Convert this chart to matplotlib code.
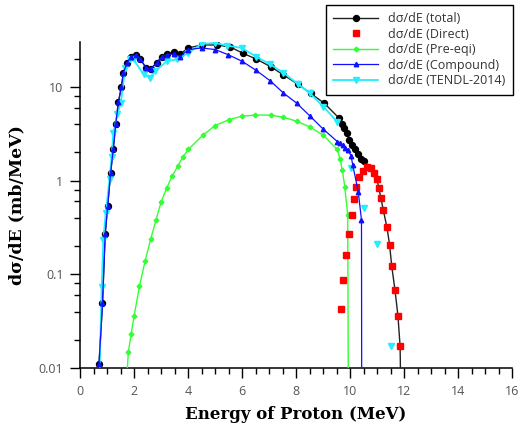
import numpy as np
import matplotlib
matplotlib.use("Agg")
import matplotlib.pyplot as plt
from matplotlib.ticker import MultipleLocator, FixedLocator, FixedFormatter

# total (black), markers only on the first n_total_marked points
total_e = [0.70, 0.83, 0.93, 1.02, 1.13, 1.23, 1.32, 1.42, 1.53, 1.60, 1.73, 1.89,
           2.06, 2.22, 2.44, 2.62, 2.84, 3.02, 3.21, 3.46, 3.70, 4.01, 4.50, 5.06,
           5.56, 6.05, 6.52, 7.06, 7.53, 8.06, 8.54, 9.04, 9.57, 9.69, 9.79, 9.88,
           9.97, 10.06, 10.19, 10.30, 10.40, 10.50,
           10.62, 10.76, 10.88, 10.99, 11.06, 11.14, 11.23, 11.36, 11.46, 11.54,
           11.66, 11.77, 11.85, 11.88]
total_v = [0.011, 0.049, 0.27, 0.53, 1.2, 2.2, 4.0, 6.9, 10, 14, 17.8, 21,
           22, 20, 16, 15.7, 18, 21, 22.4, 23.6, 22.4, 26, 28, 28,
           26.6, 22.7, 19.8, 16.4, 13.4, 10.7, 8.5, 6.7, 4.7, 4.0, 3.6, 3.2,
           2.7, 2.4, 2.2, 1.9, 1.7, 1.6,
           1.40, 1.36, 1.22, 1.04, 0.84, 0.65, 0.48, 0.32, 0.207, 0.122,
           0.068, 0.036, 0.017, 0.004]
n_total_marked = 42

direct_e = [9.67, 9.75, 9.83, 9.94, 10.05, 10.13, 10.20, 10.33, 10.47, 10.62,
            10.76, 10.88, 10.99, 11.06, 11.14, 11.23, 11.36, 11.46, 11.54,
            11.66, 11.77, 11.85]
direct_v = [0.043, 0.087, 0.16, 0.27, 0.43, 0.63, 0.86, 1.08, 1.28, 1.38,
            1.36, 1.22, 1.04, 0.84, 0.65, 0.48, 0.32, 0.207, 0.122,
            0.068, 0.036, 0.017]

preeq_e = [1.70, 1.79, 1.89, 2.00, 2.20, 2.41, 2.62, 2.81, 3.00, 3.21, 3.42,
           3.62, 3.80, 4.01, 4.54, 5.00, 5.53, 5.99, 6.48, 7.06, 7.53, 8.02,
           8.52, 9.01, 9.52, 9.62, 9.71, 9.80, 9.91, 9.94]
preeq_v = [0.006, 0.015, 0.023, 0.036, 0.075, 0.14, 0.24, 0.38, 0.59, 0.84, 1.13,
           1.43, 1.77, 2.15, 3.04, 3.87, 4.48, 4.86, 5.0, 5.0, 4.74, 4.3,
           3.72, 3.04, 2.15, 1.72, 1.3, 0.86, 0.43, 0.001]

comp_e = [0.70, 0.83, 0.93, 1.02, 1.13, 1.23, 1.32, 1.42, 1.53, 1.60, 1.73, 1.89,
          2.06, 2.22, 2.44, 2.62, 2.84, 3.02, 3.21, 3.46, 3.70, 4.01, 4.50, 5.00,
          5.49, 5.99, 6.52, 7.04, 7.53, 8.02, 8.52, 8.99, 9.53, 9.62, 9.72, 9.82,
          9.92, 10.03, 10.10, 10.30, 10.42, 10.43]
comp_v = [0.011, 0.049, 0.27, 0.53, 1.2, 2.2, 4.0, 6.9, 10, 14, 17.8, 21,
          22, 20, 16, 15.7, 18, 21, 22, 22.5, 21, 25, 26, 25,
          22, 18.8, 15, 11.6, 8.6, 6.7, 4.86, 3.57, 2.6, 2.5, 2.38, 2.25,
          2.1, 1.85, 1.45, 0.76, 0.38, 0.001]

tendl_e = [0.70, 0.80, 0.86, 0.95, 1.09, 1.17, 1.23, 1.38, 1.51, 1.67, 1.85, 1.98,
           2.35, 2.59, 2.78, 3.21, 3.58, 4.01, 4.50, 5.00, 5.43, 5.99, 6.52,
           7.04, 7.53, 8.06, 8.52, 9.01, 9.53]
tendl_v = [0.005, 0.073, 0.23, 0.45, 1.04, 1.8, 3.2, 5.1, 6.8, 15.9, 19.6, 19.6,
           13.6, 12.5, 14.7, 18.8, 19.6, 23, 28.7, 29.4, 27.6, 26, 21,
           17.4, 14.1, 10.8, 8.5, 6.15, 4.2]
tendl_tail_e = [10.03, 10.53, 11.01, 11.50]
tendl_tail_v = [1.37, 0.51, 0.21, 0.017]

fig = plt.figure(figsize=(5.2, 4.3), dpi=100)
ax = fig.add_axes([0.154, 0.144, 0.831, 0.758])

ax.plot(total_e, total_v, color="#222222", lw=1.0, marker="o", ms=4.3,
        mfc="black", mec="black", markevery=list(range(n_total_marked)),
        label="d\u03c3/dE (total)", zorder=3)
ax.plot(direct_e, direct_v, ls="none", marker="s", ms=5, color="#ff0000",
        label="d\u03c3/dE (Direct)", zorder=4)
ax.plot(preeq_e, preeq_v, color="#33ff33", lw=1.0, marker="P", ms=3,
        label="d\u03c3/dE (Pre-eqi)", zorder=3)
ax.plot(comp_e, comp_v, color="#1010ff", lw=0.9, marker="^", ms=3.2,
        label="d\u03c3/dE (Compound)", zorder=5)
ax.plot(tendl_e, tendl_v, color="#22eeff", lw=1.3, marker="v", ms=4,
        label="d\u03c3/dE (TENDL-2014)", zorder=4)
ax.plot(tendl_tail_e, tendl_tail_v, ls="none", marker="v", ms=4,
        color="#22eeff", zorder=4)

ax.set_yscale("log")
ax.set_xlim(0, 16)
ax.set_ylim(0.01, 30)

ax.xaxis.set_major_locator(MultipleLocator(2))
ax.xaxis.set_minor_locator(MultipleLocator(0.5))
ax.yaxis.set_major_locator(FixedLocator([0.01, 0.1, 1, 10]))
ax.yaxis.set_major_formatter(FixedFormatter(["0.01", "0.1", "1", "10"]))
ax.yaxis.set_minor_locator(FixedLocator(
    [m * 10.0 ** p for p in (-2, -1, 0, 1) for m in (2, 4, 6, 8)]))

for s in ("top", "right"):
    ax.spines[s].set_visible(False)
for s in ("left", "bottom"):
    ax.spines[s].set_linewidth(1.1)

ax.tick_params(which="major", direction="out", length=7, width=1,
               labelsize=9, labelcolor="#555555", pad=5)
ax.tick_params(which="minor", direction="out", length=4, width=1)
for lab in ax.get_xticklabels() + ax.get_yticklabels():
    lab.set_fontfamily("Open Sans")

ax.set_xlabel("Energy of Proton (MeV)", fontfamily="DejaVu Serif",
              fontweight="bold", fontsize=12, labelpad=6)
ax.set_ylabel("d\u03c3/dE (mb/MeV)", fontfamily="DejaVu Serif",
              fontweight="bold", fontsize=12.5, labelpad=10)

leg = ax.legend(loc="upper right", bbox_to_anchor=(0.987, 0.989),
                bbox_transform=fig.transFigure, fancybox=False,
                edgecolor="black", framealpha=1, borderaxespad=0,
                prop={"family": "Open Sans", "size": 9},
                labelspacing=0.2, handlelength=3.6, handletextpad=0.8,
                borderpad=0.6)
leg.get_frame().set_linewidth(1.0)
for t in leg.get_texts():
    t.set_color("#333333")

fig.savefig("out.png", dpi=100)
